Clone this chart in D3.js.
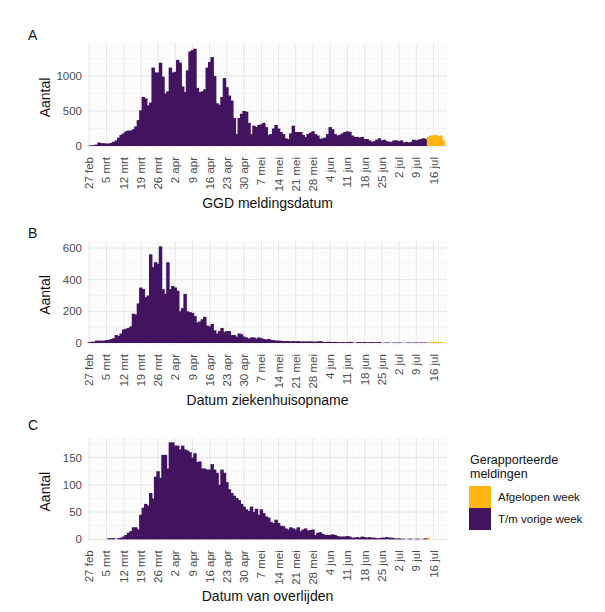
<!DOCTYPE html>
<html><head><meta charset="utf-8">
<script src="https://cdn.jsdelivr.net/npm/d3@7"></script>
<style>body{margin:0;background:#fff}svg{display:block}</style>
</head><body>
<svg id="chart" width="605" height="612"></svg>
<script>
// ---------- DATA ----------
const startDate = new Date(2020, 1, 27);   // 27 feb 2020
const endDate   = new Date(2020, 6, 21);   // 21 jul 2020
const lastWeekStart = 138;                 // index of first day in "Afgelopen week"

const tickLabels = ["27 feb","5 mrt","12 mrt","19 mrt","26 mrt","2 apr","9 apr","16 apr","23 apr","30 apr",
  "7 mei","14 mei","21 mei","28 mei","4 jun","11 jun","18 jun","25 jun","2 jul","9 jul","16 jul"];

const seriesNames = ["Afgelopen week", "T/m vorige week"];
const legendTitle = ["Gerapporteerde", "meldingen"];

// A: GGD meldingsdatum
const meldingenVorige = [
  5,10,15,20,50,40,40,35,35,45,
  60,80,120,160,180,210,220,220,240,280,
  370,510,700,680,580,620,1120,1050,1050,1190,
  990,750,780,1120,1050,1060,1230,1190,850,770,
  1080,1350,1370,1390,830,770,780,810,1120,1200,
  1270,1000,610,590,700,970,840,720,650,400,
  170,400,460,500,490,330,170,290,270,300,
  310,330,270,160,170,250,300,250,200,170,
  110,100,180,290,200,200,200,160,130,170,
  190,210,170,150,100,110,120,170,270,240,
  170,150,160,180,200,210,200,150,130,130,
  120,130,100,100,80,60,70,90,110,80,
  90,70,60,60,80,80,70,80,50,60,
  50,60,90,80,90,100,110,100,0,0,
  0,0,0,0,0];
const meldingenAfgelopen = [130,150,150,160,140,150,80];

// B: Datum ziekenhuisopname
const opnameVorige = [
  5,8,8,15,15,14,15,18,20,25,
  30,50,45,60,85,90,95,105,185,180,
  250,350,340,290,300,560,480,510,500,610,
  340,310,510,340,360,350,330,200,220,310,
  200,195,190,170,130,135,150,165,110,105,
  120,80,60,75,95,70,75,75,50,50,
  40,60,55,40,35,28,35,35,28,35,
  30,25,22,25,20,18,15,15,14,12,
  12,12,10,12,10,12,9,10,9,10,
  10,9,8,10,12,8,6,8,7,6,
  7,6,5,6,5,6,7,5,0,5,
  6,5,6,4,5,6,4,5,6,0,
  2,3,2,0,3,2,3,2,0,2,
  3,2,2,3,2,3,2,3,0,0,
  0,0,0,0,0];
const opnameAfgelopen = [3,5,6,8,7,5,2];

// C: Datum van overlijden
const overlijdenVorige = [
  0,0,0,0,0,0,0,0,2,2,
  2,0,2,3,5,8,12,15,22,22,
  18,45,58,65,62,85,75,115,125,113,
  155,155,130,178,178,172,172,165,172,165,
  163,160,150,158,142,143,130,130,128,128,
  138,128,122,100,128,122,105,92,85,80,
  76,72,65,60,55,52,60,50,56,45,
  55,48,42,40,32,30,36,30,25,24,
  20,18,22,20,18,22,15,18,20,16,
  17,18,8,12,13,10,8,8,8,9,
  8,6,5,5,5,6,5,3,3,4,
  3,5,4,3,4,3,3,2,2,3,
  3,4,3,3,2,1,2,1,1,0,
  1,1,0,1,1,0,1,2,0,0,
  0,0,0,0,0];
const overlijdenAfgelopen = [3,0,0,0,0,0,0];

// ---------- LAYOUT / STYLE ----------
const colPrev = "#42145f", colLast = "#ffb612";
const font = "'Liberation Sans', Arial, Helvetica, sans-serif";
const plotLeft = 88, plotRight = 447;

const panels = [
  {letter:"A", title:"GGD meldingsdatum", prev:meldingenVorige, last:meldingenAfgelopen,
   top:43, zero:146, yTop:1471, major:[0,500,1000], minor:[250,750,1250], letterY:40},
  {letter:"B", title:"Datum ziekenhuisopname", prev:opnameVorige, last:opnameAfgelopen,
   top:241, zero:343, yTop:644, major:[0,200,400,600], minor:[100,300,500], letterY:238},
  {letter:"C", title:"Datum van overlijden", prev:overlijdenVorige, last:overlijdenAfgelopen,
   top:438, zero:539.3, yTop:186, major:[0,50,100,150], minor:[25,75,125,175], letterY:430}
];

const svg = d3.select("#chart");
const days = d3.timeDay.range(startDate, d3.timeDay.offset(endDate, 1));
const half = 12 * 3600 * 1000;
const x = d3.scaleTime()
  .domain([new Date(+startDate - half), new Date(+endDate + half)])
  .range([plotLeft, plotRight]);
const tickDates = tickLabels.map((l, i) => d3.timeDay.offset(startDate, i * 7));

panels.forEach(p => {
  const bottom = p.zero + 2;
  const y = d3.scaleLinear().domain([0, p.yTop]).range([p.zero, p.top]);
  const g = svg.append("g");

  // minor vertical grid (daily)
  g.selectAll(".vmin").data(days).join("line")
    .attr("x1", d => x(d)).attr("x2", d => x(d))
    .attr("y1", p.top).attr("y2", bottom)
    .attr("stroke", "#f1f1f1").attr("stroke-width", 0.6);
  // major vertical grid (weekly)
  g.selectAll(".vmaj").data(tickDates).join("line")
    .attr("x1", d => x(d)).attr("x2", d => x(d))
    .attr("y1", p.top).attr("y2", bottom)
    .attr("stroke", "#e4e4e4").attr("stroke-width", 0.9);
  // horizontal grid
  g.selectAll(".hmin").data(p.minor.filter(v => v <= p.yTop)).join("line")
    .attr("x1", plotLeft).attr("x2", plotRight)
    .attr("y1", d => y(d)).attr("y2", d => y(d))
    .attr("stroke", "#efefef").attr("stroke-width", 0.6);
  g.selectAll(".hmaj").data(p.major).join("line")
    .attr("x1", plotLeft).attr("x2", plotRight)
    .attr("y1", d => y(d)).attr("y2", d => y(d))
    .attr("stroke", "#e4e4e4").attr("stroke-width", 0.9);

  // bars
  const rows = days.map((d, i) => {
    const pv = p.prev[i] || 0;
    const lv = i >= lastWeekStart ? (p.last[i - lastWeekStart] || 0) : 0;
    return {d, pv, lv};
  });
  const bx = r => x(new Date(+r.d - half));
  const bw = r => x(new Date(+r.d + half)) - x(new Date(+r.d - half));
  g.selectAll(".bp").data(rows.filter(r => r.pv > 0)).join("rect")
    .attr("x", r => bx(r) - 0.5)
    .attr("width", r => bw(r) + 1)
    .attr("y", r => y(r.pv))
    .attr("height", r => y(0) - y(r.pv))
    .attr("fill", colPrev);
  g.selectAll(".bl").data(rows.filter(r => r.lv > 0)).join("rect")
    .attr("x", r => bx(r) - 0.5)
    .attr("width", r => bw(r) + 1)
    .attr("y", r => y(r.pv + r.lv))
    .attr("height", r => y(r.pv) - y(r.pv + r.lv))
    .attr("fill", colLast);

  // y tick labels
  g.selectAll(".yt").data(p.major).join("text")
    .attr("x", 82).attr("y", d => y(d)).attr("dy", "0.35em")
    .attr("text-anchor", "end")
    .attr("font-family", font).attr("font-size", 11.5).attr("fill", "#4d4d4d")
    .text(d => d);

  // x tick labels (rotated)
  g.selectAll(".xt").data(tickDates).join("text")
    .attr("transform", d => `translate(${x(d)},${p.zero + 11}) rotate(-90)`)
    .attr("dy", "0.35em")
    .attr("text-anchor", "end")
    .attr("font-family", font).attr("font-size", 11.5).attr("fill", "#4d4d4d")
    .text((d, i) => tickLabels[i]);

  // axis titles
  g.append("text")
    .attr("x", (plotLeft + plotRight) / 2).attr("y", p.zero + 61.5)
    .attr("text-anchor", "middle")
    .attr("font-family", font).attr("font-size", 14).attr("fill", "#111")
    .text(p.title);
  g.append("text")
    .attr("transform", `translate(50,${(p.top + bottom) / 2 + 2}) rotate(-90)`)
    .attr("text-anchor", "middle")
    .attr("font-family", font).attr("font-size", 14).attr("fill", "#111")
    .text("Aantal");
  // panel letter
  g.append("text")
    .attr("x", 28).attr("y", p.letterY)
    .attr("font-family", font).attr("font-size", 14).attr("fill", "#111")
    .text(p.letter);
});

// ---------- LEGEND ----------
const lg = svg.append("g");
lg.selectAll(".lt").data(legendTitle).join("text")
  .attr("x", 470).attr("y", (d, i) => 464 + i * 13.5)
  .attr("font-family", font).attr("font-size", 12.5).attr("fill", "#111")
  .text(d => d);
const legendColors = [colLast, colPrev];
lg.selectAll(".lk").data(seriesNames).join("rect")
  .attr("x", 469).attr("y", (d, i) => 486 + i * 22)
  .attr("width", 22).attr("height", 22)
  .attr("fill", (d, i) => legendColors[i]);
lg.selectAll(".ll").data(seriesNames).join("text")
  .attr("x", 498).attr("y", (d, i) => 497 + i * 22).attr("dy", "0.35em")
  .attr("font-family", font).attr("font-size", 11.5).attr("fill", "#111")
  .text(d => d);
</script>
</body></html>
